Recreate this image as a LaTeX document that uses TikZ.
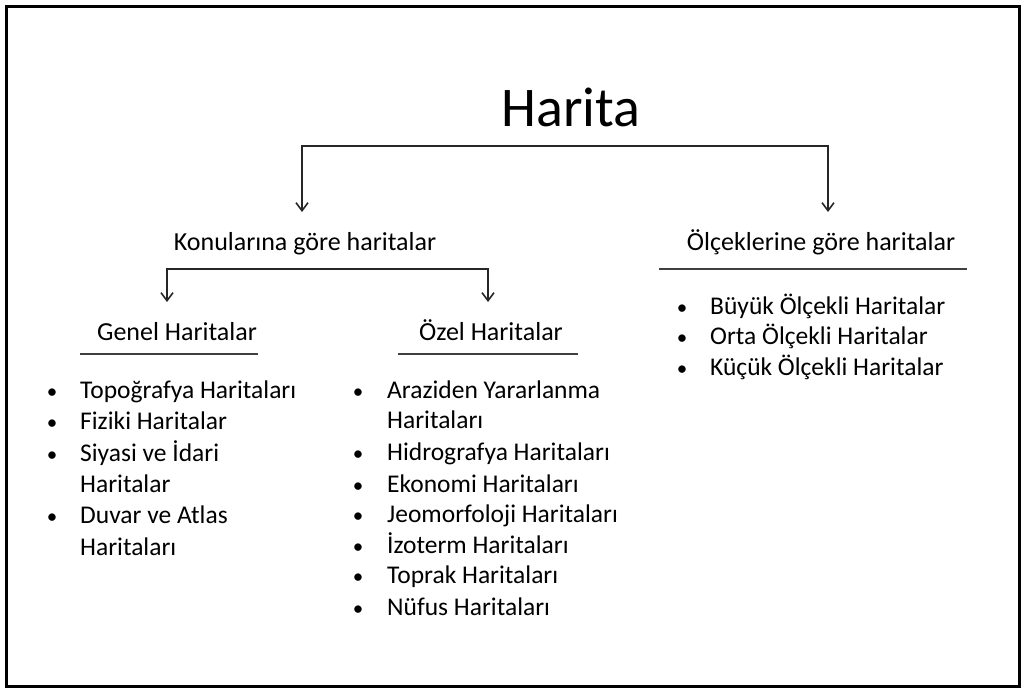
\documentclass[tikz,border=0pt]{standalone}
\usepackage{fontspec}
\setmainfont{Carlito}
\usetikzlibrary{positioning}
\usetikzlibrary{arrows.meta}

\begin{document}
\begin{tikzpicture}
    [x=1pt, y=-1pt,
     titleText/.style={font=\fontsize{56}{60}\selectfont, inner sep=0pt, anchor=base},
     headText/.style={font=\fontsize{26}{30}\selectfont, inner sep=0pt, anchor=base},
     itemText/.style={font=\fontsize{25.5}{30}\selectfont, inner sep=0pt, anchor=base west},
     bulletDot/.style={font=\fontsize{21}{30}\selectfont, inner sep=0pt, anchor=base},
     branchLine/.style={line width=1.6pt, draw=black!85,
        arrows={Straight Barb[length=8pt, width=12pt]-Straight Barb[length=8pt, width=12pt]}},
     ruleLine/.style={line width=1.6pt, draw=black!75},
    ]

    \useasboundingbox (0,0) rectangle (1025,689);
    \draw[line width=3pt] (6.5,6.5) rectangle (1019.5,686.5);

    % top level
    \node[titleText] (harita) at (571,126) {Harita};
    \coordinate (haritaBar) at (565,146);
    \coordinate (konuTip) at (302,212);
    \coordinate (olcekTip) at (828,212);
    \draw[branchLine] (konuTip) |- (haritaBar) -| (olcekTip);

    \node[headText] (konu) at (305,250) {Konularına göre haritalar};
    \node[headText] (olcek) at (821,250) {Ölçeklerine göre haritalar};
    \draw[ruleLine] (659,269) -- (967,269);

    % second level
    \coordinate (konuBar) at (330,269);
    \coordinate (genelTip) at (167,302);
    \coordinate (ozelTip) at (488,302);
    \draw[branchLine] (genelTip) |- (konuBar) -| (ozelTip);

    \node[headText] (genel) at (177,340) {Genel Haritalar};
    \node[headText] (ozel) at (491,340) {Özel Haritalar};
    \draw[ruleLine] (80,354) -- (258,354);
    \draw[ruleLine] (398,354) -- (578,354);

    % lists
    \foreach \y/\b/\txt [count=\i] in {398/1/Topoğrafya Haritaları, 429/1/Fiziki Haritalar,
            461/1/Siyasi ve İdari, 492/0/Haritalar, 523/1/Duvar ve Atlas, 555/0/Haritaları} {
        \node[itemText] (genelItem\i) at (80,\y) {\txt};
        \ifnum\b=1 \node[bulletDot] at (52,\y) {\textbullet}; \fi
    }
    \foreach \y/\b/\txt [count=\i] in {398/1/Araziden Yararlanma, 428/0/Haritaları,
            460/1/Hidrografya Haritaları, 492/1/Ekonomi Haritaları, 522/1/Jeomorfoloji Haritaları,
            553/1/İzoterm Haritaları, 583/1/Toprak Haritaları, 615/1/Nüfus Haritaları} {
        \node[itemText] (ozelItem\i) at (387,\y) {\txt};
        \ifnum\b=1 \node[bulletDot] at (358,\y) {\textbullet}; \fi
    }
    \foreach \y/\txt [count=\i] in {314/Büyük Ölçekli Haritalar, 344.5/Orta Ölçekli Haritalar,
            375/Küçük Ölçekli Haritalar} {
        \node[itemText] (olcekItem\i) at (710,\y) {\txt};
        \node[bulletDot] at (682,\y) {\textbullet};
    }

\end{tikzpicture}
\end{document}
